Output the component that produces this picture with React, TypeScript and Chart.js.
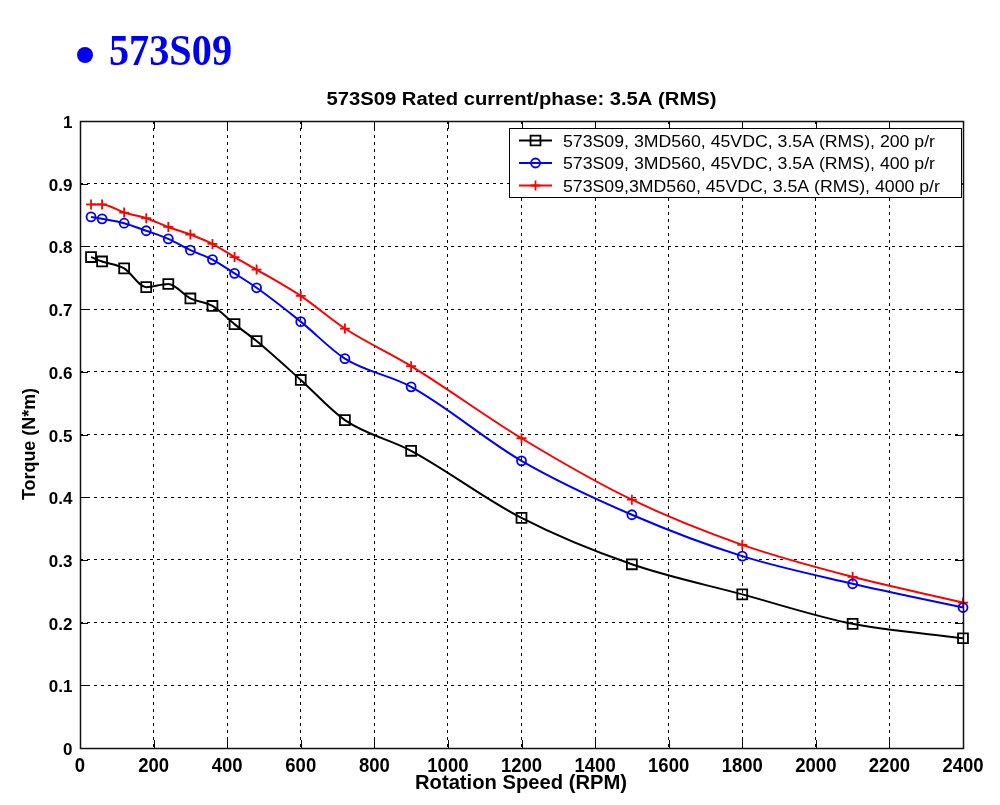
import React, { useEffect, useRef } from 'react';
import { Chart, registerables } from 'chart.js';

Chart.register(...registerables);

// ---- data ----
const rpm = [30, 60, 120, 180, 240, 300, 360, 420, 480, 600, 720, 900, 1200, 1500, 1800, 2100, 2400];
const torque200 = [0.783, 0.776, 0.765, 0.735, 0.740, 0.717, 0.705, 0.676, 0.649, 0.587, 0.523, 0.474, 0.367, 0.293, 0.245, 0.198, 0.175];
const torque400 = [0.847, 0.844, 0.837, 0.825, 0.812, 0.794, 0.779, 0.757, 0.734, 0.680, 0.621, 0.576, 0.458, 0.372, 0.306, 0.262, 0.224];
const torque4000 = [0.867, 0.867, 0.854, 0.845, 0.831, 0.819, 0.804, 0.783, 0.763, 0.721, 0.669, 0.609, 0.494, 0.396, 0.324, 0.273, 0.232];

const seriesLabels = [
  '573S09, 3MD560, 45VDC, 3.5A (RMS), 200 p/r',
  '573S09, 3MD560, 45VDC, 3.5A (RMS), 400 p/r',
  '573S09,3MD560, 45VDC, 3.5A (RMS), 4000 p/r',
];

const xTicks = [0, 200, 400, 600, 800, 1000, 1200, 1400, 1600, 1800, 2000, 2200, 2400];
const xTickLabels = ['0', '200', '400', '600', '800', '1000', '1200', '1400', '1600', '1800', '2000', '2200', '2400'];
const yTicks = [0, 0.1, 0.2, 0.3, 0.4, 0.5, 0.6, 0.7, 0.8, 0.9, 1];
const yTickLabels = ['0', '0.1', '0.2', '0.3', '0.4', '0.5', '0.6', '0.7', '0.8', '0.9', '1'];

const headerText = '573S09';
const chartTitle = '573S09 Rated current/phase: 3.5A (RMS)';
const xTitle = 'Rotation Speed (RPM)';
const yTitle = 'Torque (N*m)';

const SANS = '"Liberation Sans", Arial, sans-serif';
const SERIF = '"Liberation Serif", "Times New Roman", serif';

function fitText(ctx: CanvasRenderingContext2D, text: string, x: number, y: number, font: string, width: number, align: CanvasTextAlign) {
  ctx.save();
  ctx.font = font;
  const w = ctx.measureText(text).width;
  const s = width / w;
  ctx.translate(x, y);
  ctx.scale(s, 1);
  ctx.textAlign = align;
  ctx.textBaseline = 'alphabetic';
  ctx.fillText(text, 0, 0);
  ctx.restore();
}

function drawMarker(ctx: CanvasRenderingContext2D, style: string, x: number, y: number, r: number, color: string) {
  ctx.save();
  ctx.strokeStyle = color;
  ctx.lineWidth = 1.8;
  ctx.beginPath();
  if (style === 'rect') {
    const s = r * Math.SQRT1_2;
    ctx.rect(x - s, y - s, 2 * s, 2 * s);
  } else if (style === 'circle') {
    ctx.arc(x, y, r, 0, Math.PI * 2);
  } else {
    ctx.moveTo(x, y - r);
    ctx.lineTo(x, y + r);
    ctx.moveTo(x - r, y);
    ctx.lineTo(x + r, y);
  }
  ctx.stroke();
  ctx.restore();
}

const overlay = {
  id: 'overlay',
  afterDraw(chart: any) {
    const ctx: CanvasRenderingContext2D = chart.ctx;
    const { left, right, top, bottom } = chart.chartArea;
    const xs = chart.scales.x;
    const ys = chart.scales.y;
    ctx.save();

    // inner tick marks
    ctx.strokeStyle = '#000';
    ctx.lineWidth = 1;
    ctx.beginPath();
    xTicks.forEach((v) => {
      const px = Math.round(xs.getPixelForValue(v)) + 0.5;
      ctx.moveTo(px, bottom);
      ctx.lineTo(px, bottom - 8);
      ctx.moveTo(px, top);
      ctx.lineTo(px, top + 8);
    });
    yTicks.forEach((v) => {
      const py = Math.round(ys.getPixelForValue(v)) + 0.5;
      ctx.moveTo(left, py);
      ctx.lineTo(left + 8, py);
      ctx.moveTo(right, py);
      ctx.lineTo(right - 8, py);
    });
    ctx.stroke();

    // axes box
    ctx.lineWidth = 1.5;
    ctx.strokeStyle = '#111';
    ctx.strokeRect(Math.round(left) + 0.5, Math.round(top) + 0.5, Math.round(right - left), Math.round(bottom - top));

    // tick labels
    ctx.fillStyle = '#000';
    ctx.font = `bold 17px ${SANS}`;
    ctx.textAlign = 'right';
    ctx.textBaseline = 'alphabetic';
    yTicks.forEach((v, i) => {
      ctx.fillText(yTickLabels[i], 72.5, ys.getPixelForValue(v) + 7);
    });
    xTicks.forEach((v, i) => {
      fitText(ctx, xTickLabels[i], xs.getPixelForValue(v), 772, `bold 20px ${SANS}`, xTickLabels[i].length * 10.3, 'center');
    });

    // titles
    fitText(ctx, chartTitle, (left + right) / 2, 105, `bold 18px ${SANS}`, 390, 'center');
    fitText(ctx, xTitle, 521, 789, `bold 20px ${SANS}`, 212, 'center');
    ctx.save();
    ctx.translate(35, 444);
    ctx.rotate(-Math.PI / 2);
    fitText(ctx, yTitle, 0, 0, `bold 19px ${SANS}`, 112, 'center');
    ctx.restore();

    // header
    ctx.fillStyle = '#0000f0';
    ctx.beginPath();
    ctx.arc(85, 55, 8, 0, Math.PI * 2);
    ctx.fill();
    fitText(ctx, headerText, 109, 65, `bold 44px ${SERIF}`, 123, 'left');

    // legend
    const lx = 509.5, ly = 128.5, lw = 452, lh = 69;
    ctx.fillStyle = '#fff';
    ctx.fillRect(lx, ly, lw, lh);
    ctx.strokeStyle = '#000';
    ctx.lineWidth = 1;
    ctx.strokeRect(lx, ly, lw, lh);
    const rows = [140.5, 163, 185.5];
    ctx.font = `16px ${SANS}`;
    const baseW = ctx.measureText(chart.data.datasets[0].label).width;
    const scaleX = 372 / baseW;
    chart.data.datasets.forEach((ds: any, i: number) => {
      const y = rows[i];
      ctx.strokeStyle = ds.borderColor;
      ctx.lineWidth = 1.8;
      ctx.beginPath();
      ctx.moveTo(519, y);
      ctx.lineTo(552, y);
      ctx.stroke();
      drawMarker(ctx, ds.pointStyle, 535.5, y, ds.pointRadius, ds.borderColor);
      ctx.save();
      ctx.fillStyle = '#000';
      ctx.translate(563, y + 6);
      ctx.scale(scaleX, 1);
      ctx.textAlign = 'left';
      ctx.fillText(ds.label, 0, 0);
      ctx.restore();
    });

    ctx.restore();
  },
};

export default function App() {
  const ref = useRef<HTMLCanvasElement | null>(null);

  useEffect(() => {
    if (!ref.current) return;
    const mk = (vals: number[]) => rpm.map((x, i) => ({ x, y: vals[i] }));
    const common = {
      backgroundColor: 'rgba(0,0,0,0)',
      borderWidth: 2,
      pointBorderWidth: 1.8,
      pointBackgroundColor: 'rgba(0,0,0,0)',
      cubicInterpolationMode: 'monotone',
      clip: false,
    };
    const chart = new Chart(ref.current, {
      type: 'line',
      data: {
        datasets: [
          { ...common, label: seriesLabels[0], data: mk(torque200), borderColor: '#000000', pointStyle: 'rect', pointRadius: 7 },
          { ...common, label: seriesLabels[1], data: mk(torque400), borderColor: '#0000ff', pointStyle: 'circle', pointRadius: 4.5 },
          { ...common, label: seriesLabels[2], data: mk(torque4000), borderColor: '#ff0000', pointStyle: 'cross', pointRadius: 5 },
        ] as any,
      },
      options: {
        responsive: false,
        maintainAspectRatio: false,
        devicePixelRatio: 1,
        animation: false,
        events: [],
        layout: { padding: { top: 121, right: 37, left: 0, bottom: 0 } },
        plugins: {
          legend: { display: false },
          title: { display: false },
          tooltip: { enabled: false },
        },
        scales: {
          x: {
            type: 'linear',
            min: 0,
            max: 2400,
            afterBuildTicks: (s: any) => {
              s.ticks = xTicks.map((v) => ({ value: v }));
            },
            afterFit: (s: any) => {
              s.height = 57;
            },
            ticks: { display: false },
            grid: { color: '#000', lineWidth: 1, drawTicks: false },
            border: { display: false, dash: [3, 4] },
          },
          y: {
            type: 'linear',
            min: 0,
            max: 1,
            afterBuildTicks: (s: any) => {
              s.ticks = yTicks.map((v) => ({ value: v }));
            },
            afterFit: (s: any) => {
              s.width = 80;
            },
            ticks: { display: false },
            grid: { color: '#000', lineWidth: 1, drawTicks: false },
            border: { display: false, dash: [3, 4] },
          },
        },
      } as any,
      plugins: [overlay],
    });
    return () => chart.destroy();
  }, []);

  return (
    <div style={{ position: 'absolute', left: 0, top: 0, width: 1000, height: 805, background: '#fff' }}>
      <canvas ref={ref} width={1000} height={805} style={{ display: 'block', width: 1000, height: 805 }} />
    </div>
  );
}
